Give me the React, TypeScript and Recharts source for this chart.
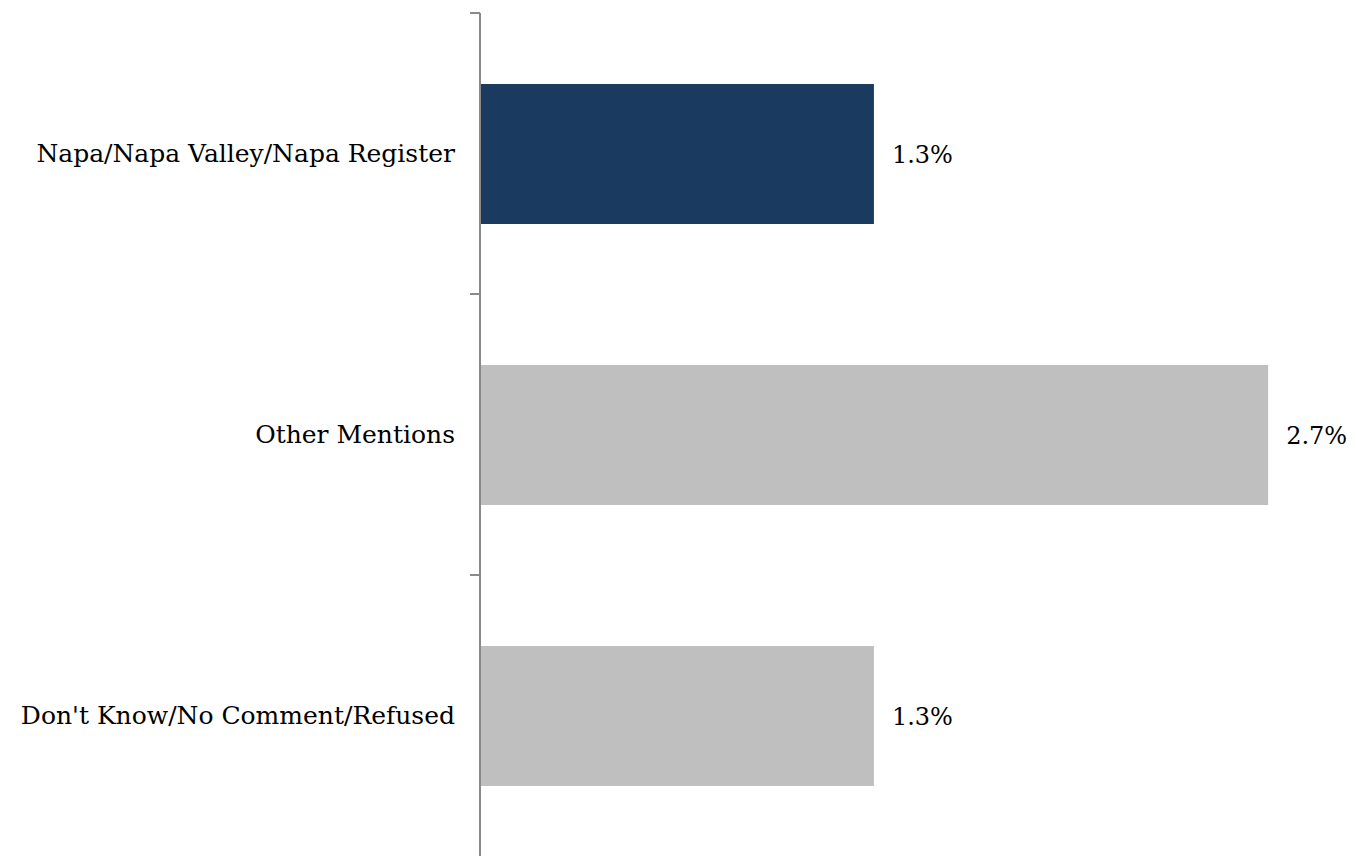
import React from "react";
import { BarChart, Bar, XAxis, YAxis, Cell, LabelList } from "recharts";

const categories = [
  "Napa/Napa Valley/Napa Register",
  "Other Mentions",
  "Don't Know/No Comment/Refused",
];
const values = [1.333, 2.667, 1.333];
const barColors = ["#1b3a5f", "#bfbfbf", "#bfbfbf"];

const data = categories.map((name, i) => ({ name, value: values[i], color: barColors[i] }));

const W = 1355;
const H = 856;
const MARGIN_TOP = 13;
const MARGIN_BOTTOM = 0;
const BAND = (H - MARGIN_TOP - MARGIN_BOTTOM) / categories.length;
const FONT = "'DejaVu Serif', 'Liberation Serif', serif";
const AXIS_COLOR = "#898989";

const CustomTick = (props: any) => {
  const { x, y, payload } = props;
  const top = y - BAND / 2;
  return (
    <g>
      <line x1={470} x2={480} y1={top} y2={top} stroke={AXIS_COLOR} strokeWidth={2} />
      <text
        x={x}
        y={y}
        textAnchor="end"
        dominantBaseline="central"
        fontFamily={FONT}
        fontSize={25}
        fill="#000"
      >
        {payload.value}
      </text>
    </g>
  );
};

export default function App() {
  return (
    <div style={{ position: "absolute", left: 0, top: 0, width: W, height: H, background: "#fff" }}>
      <BarChart
        width={W}
        height={H}
        data={data}
        layout="vertical"
        margin={{ top: MARGIN_TOP, right: 18, bottom: MARGIN_BOTTOM, left: 0 }}
      >
        <XAxis type="number" domain={[0, 2.9]} hide />
        <YAxis
          type="category"
          dataKey="name"
          width={480}
          axisLine={{ stroke: AXIS_COLOR, strokeWidth: 2 }}
          tickLine={false}
          tickSize={10}
          tickMargin={15}
          tick={<CustomTick />}
        />
        <Bar dataKey="value" barSize={140} isAnimationActive={false}>
          {data.map((d, i) => (
            <Cell key={i} fill={d.color} />
          ))}
          <LabelList
            dataKey="value"
            position="right"
            offset={18}
            formatter={(v: any) => `${Number(v).toFixed(1)}%`}
            style={{ fontFamily: FONT, fontSize: 24, fill: "#000" }}
          />
        </Bar>
      </BarChart>
    </div>
  );
}
